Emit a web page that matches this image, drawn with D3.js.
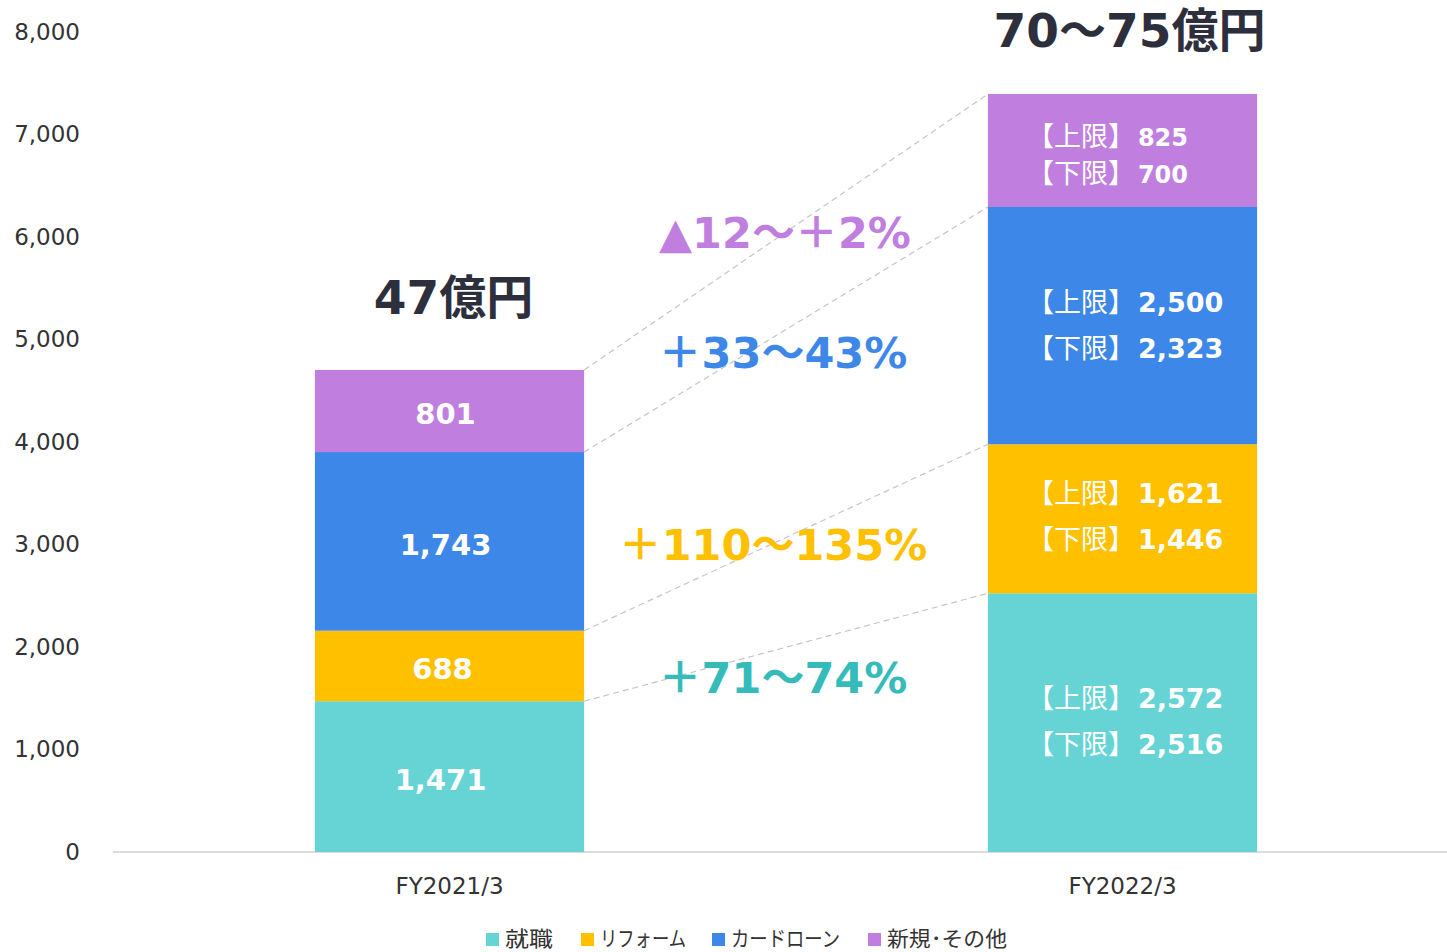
<!DOCTYPE html>
<html><head><meta charset="utf-8">
<script src="https://cdn.jsdelivr.net/npm/d3@7"></script>
<style>
html,body{margin:0;padding:0;background:#fff;}
svg{display:block;font-family:"DejaVu Sans","Noto Sans CJK JP",sans-serif;}
</style></head>
<body><svg id="c" width="1447" height="952"></svg>
<script>
// ---- data ----
const categories = ["FY2021/3", "FY2022/3"];
const seriesNames = ["就職", "リフォーム", "カードローン", "新規･その他"];
const employment = [1471, 2524];
const reform = [688, 1454];
const cardLoan = [1743, 2315];
const newOther = [801, 1102];
const upperValues = [2572, 1621, 2500, 825];
const lowerValues = [2516, 1446, 2323, 700];
const growthLabels = ["＋71～74%", "＋110～135%", "＋33～43%", "▲12～＋2%"];
const totalLabels = ["47億円", "70～75億円"];
const yTicks = [0, 1000, 2000, 3000, 4000, 5000, 6000, 7000, 8000];

const colors = ["#66D4D4", "#FFC000", "#3D87E8", "#C07FDF"];
const growthColors = ["#36BBBB", "#FFC000", "#3D87E8", "#C07FDF"];

const svg = d3.select("#c");
const fmt = d3.format(",");

const rows = categories.map((c, i) => ({
  cat: c, s0: employment[i], s1: reform[i], s2: cardLoan[i], s3: newOther[i]
}));
const keys = ["s0", "s1", "s2", "s3"];
const stacked = d3.stack().keys(keys)(rows);

const x = d3.scaleBand().domain(categories).range([113, 1459]).paddingInner(0.6).paddingOuter(0.3);
const y = d3.scaleLinear().domain([0, 8000]).range([852, 32]);

// y axis labels
const yAxis = d3.axisLeft(y).tickValues(yTicks).tickFormat(fmt).tickSize(0).tickPadding(0);
const ga = svg.append("g").attr("transform", "translate(80,0)").call(yAxis);
ga.select(".domain").remove();
ga.selectAll("text").attr("font-size", 23).attr("fill", "#333").attr("font-family", "DejaVu Sans, sans-serif");

// baseline
svg.append("line").attr("x1", 113).attr("x2", 1447).attr("y1", y(0)).attr("y2", y(0))
  .attr("stroke", "#d0d0d0").attr("stroke-width", 1.3);

// bars
stacked.forEach((layer, li) => {
  svg.append("g").selectAll("rect").data(layer).join("rect")
    .attr("x", d => x(d.data.cat))
    .attr("width", x.bandwidth())
    .attr("y", d => y(d[1]))
    .attr("height", d => y(d[0]) - y(d[1]))
    .attr("fill", colors[li]);
});

// connector dashed lines
stacked.forEach((layer) => {
  const a = layer[0], b = layer[1];
  svg.append("line")
    .attr("x1", x(categories[0]) + x.bandwidth()).attr("y1", y(a[1]))
    .attr("x2", x(categories[1])).attr("y2", y(b[1]))
    .attr("stroke", "#c4c4cc").attr("stroke-width", 1.2).attr("stroke-dasharray", "6,4");
});

// bar1 labels
const offs1 = [-9, -7, -4, -4];
stacked.forEach((layer, li) => {
  const d = layer[0];
  svg.append("text")
    .attr("x", x(categories[0]) + x.bandwidth() / 2 + offs1[li])
    .attr("y", (y(d[0]) + y(d[1])) / 2 + 3)
    .attr("dy", "0.36em")
    .attr("text-anchor", "middle").attr("font-size", 29).attr("font-weight", "bold")
    .attr("fill", "#fff").text(fmt(d[1] - d[0]));
});

// bar2 labels (upper/lower), left aligned
const lineGap = [46, 46, 46, 37];
const yShift = [-1, -2, 0, 5];
const fsz = [27, 27, 27, 24];
stacked.forEach((layer, li) => {
  const d = layer[1];
  const cy = (y(d[0]) + y(d[1])) / 2 + yShift[li];
  const lx = x(categories[1]) + 39;
  const g = svg.append("g");
  [["【上限】", upperValues[li]], ["【下限】", lowerValues[li]]].forEach((t, k) => {
    const tx = g.append("text")
      .attr("x", lx).attr("y", cy + (k === 0 ? -lineGap[li] / 2 : lineGap[li] / 2))
      .attr("dy", "0.36em").attr("text-anchor", "start")
      .attr("font-size", fsz[li]).attr("font-weight", "bold").attr("fill", "#fff");
    tx.append("tspan").attr("font-family", "Noto Sans CJK JP").attr("font-weight", "normal")
      .attr("font-size", 27).text(t[0]);
    tx.append("tspan").attr("dx", 3).text(fmt(t[1]));
  });
});

// growth labels
const growthY = [678, 545, 353, 233];
const growthX = [783, 773, 783, 785];
growthLabels.forEach((t, i) => {
  svg.append("text").attr("x", growthX[i]).attr("y", growthY[i]).attr("dy", "0.36em")
    .attr("text-anchor", "middle").attr("font-size", 43).attr("font-weight", "bold")
    .attr("fill", growthColors[i]).text(t);
});

// totals
svg.append("text").attr("x", x(categories[0]) + x.bandwidth() / 2 + 4).attr("y", 297).attr("dy", "0.36em")
  .attr("text-anchor", "middle").attr("font-size", 47).attr("font-weight", "bold").attr("fill", "#2E2F3D")
  .text(totalLabels[0]);
svg.append("text").attr("x", x(categories[1]) + x.bandwidth() / 2 + 7).attr("y", 30).attr("dy", "0.36em")
  .attr("text-anchor", "middle").attr("font-size", 47).attr("font-weight", "bold").attr("fill", "#2E2F3D")
  .text(totalLabels[1]);

// x axis labels
const xAxis = d3.axisBottom(x).tickSize(0).tickPadding(0);
const gx = svg.append("g").attr("transform", "translate(0,886)").call(xAxis);
gx.select(".domain").remove();
gx.selectAll("text").attr("font-size", 23).attr("fill", "#333").attr("dy", "0.36em")
  .attr("font-family", "DejaVu Sans, sans-serif");

// legend
const legX = [486, 581, 712, 868];
const legW = [48, 86, 109, 120];
seriesNames.forEach((n, i) => {
  svg.append("rect").attr("x", legX[i]).attr("y", 933).attr("width", 13).attr("height", 13).attr("fill", colors[i]);
  svg.append("text").attr("x", legX[i] + 19).attr("y", 938).attr("dy", "0.38em")
    .attr("font-size", 21).attr("fill", "#333").attr("font-family", "Noto Sans CJK JP")
    .attr("textLength", legW[i]).attr("lengthAdjust", "spacingAndGlyphs").text(n);
});
</script></body></html>
